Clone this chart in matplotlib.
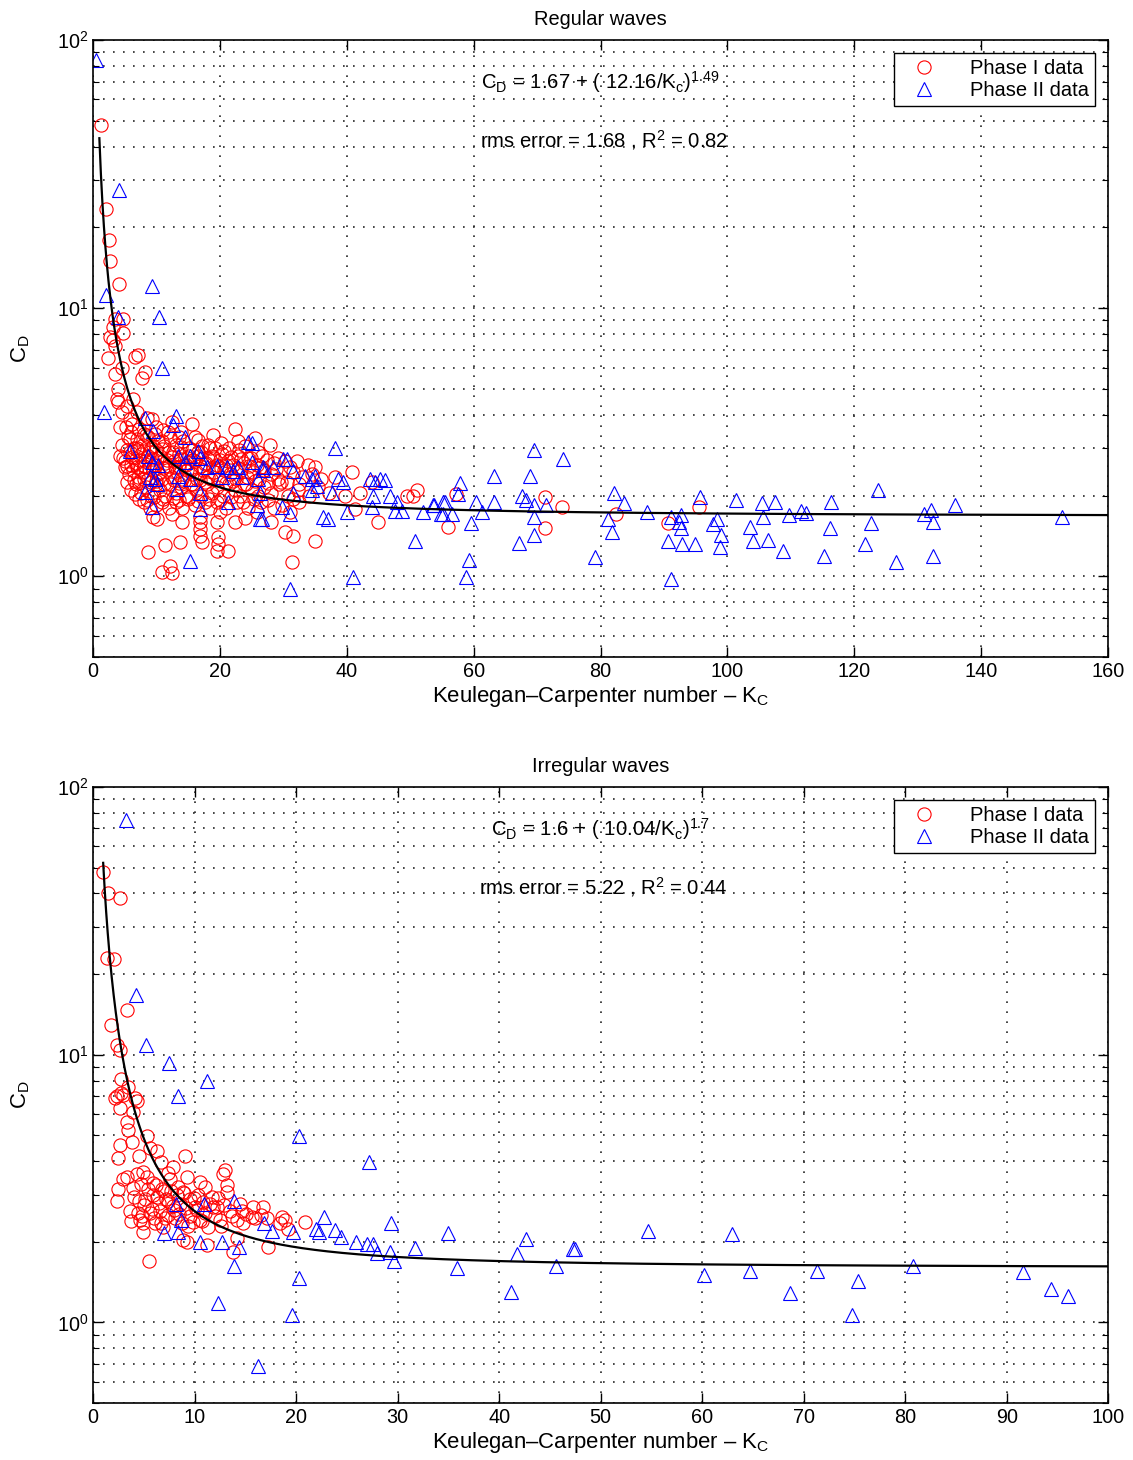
import numpy as np
import matplotlib
matplotlib.use('Agg')
import matplotlib.pyplot as plt
from matplotlib.ticker import LogLocator, FixedLocator

plt.rcParams['font.family'] = ['Liberation Sans', 'DejaVu Sans']
plt.rcParams['mathtext.fontset'] = 'custom'
plt.rcParams['mathtext.rm'] = 'Liberation Sans'
plt.rcParams['mathtext.it'] = 'Liberation Sans:italic'
plt.rcParams['mathtext.default'] = 'rm'

# ---------------- Regular waves ----------------
reg1_kc = [1.3, 2.0, 2.5, 2.7, 4.1, 4.7, 3.5, 3.2, 4.7, 2.7,
           3.2, 3.5, 2.4, 6.6, 7.1, 4.6, 3.5, 7.7, 8.2, 3.9,
           3.8, 6.3, 3.9, 5.4, 4.6, 6.9, 8.5, 9.3, 5.8, 15.6,
           5.2, 6.1, 7.3, 9.9, 11.0, 12.5, 13.8, 22.4, 4.3, 8.0,
           4.6, 5.5, 6.4, 7.0, 7.8, 8.6, 9.2, 10.3, 11.2, 12.1,
           13.0, 14.2, 15.1, 16.0, 17.2, 18.1, 19.3, 20.1, 21.5, 24.0,
           27.9, 6.0, 9.7, 11.8,
           4.3, 5.1, 5.9, 6.7, 7.5, 8.2, 9.0, 9.6, 10.5, 11.3,
           12.0, 12.8, 13.5, 14.4, 15.2, 16.1, 17.0, 17.8, 18.7, 19.5,
           20.4, 21.2, 22.0, 22.9, 23.8, 24.9, 25.8, 26.7, 28.5, 30.2,
           32.1, 33.9, 35.0, 5.4, 7.0, 10.0,
           5.6, 6.3, 7.1, 7.9, 8.7, 9.4, 10.2, 10.9, 11.7, 12.4,
           13.2, 14.0, 14.8, 15.6, 16.4, 17.3, 18.2, 19.0, 19.8, 20.7,
           21.6, 22.5, 23.4, 24.3, 25.2, 26.1, 27.0, 28.0, 29.1, 30.6,
           31.5, 33.0, 34.5, 36.0, 38.1, 40.8, 44.0, 6.9, 12.9, 18.9,
           6.0, 6.8, 7.6, 8.4, 9.1, 9.9, 10.6, 11.4, 12.2, 13.0,
           13.8, 14.6, 15.4, 16.2, 17.0, 17.9, 18.8, 19.6, 20.5, 21.4,
           22.3, 23.2, 24.1, 25.0, 26.0, 27.0, 28.1, 29.3, 30.8, 32.3,
           34.0, 35.5, 37.2, 39.7, 42.1, 6.6, 49.5, 50.4, 51.0, 57.2,
           71.2,
           8.0, 9.0, 10.0, 11.0, 12.0, 13.0, 14.0, 15.0, 16.0, 17.6,
           18.5, 19.5, 21.0, 22.7, 24.5, 26.5, 28.5, 29.8, 32.5, 41.3,
           73.9, 95.5, 20.0, 25.8, 31.0,
           9.5, 10.1, 14.0, 16.9, 16.9, 16.9, 19.5, 22.4, 28.0, 30.3,
           44.9, 56.0, 71.2, 82.4, 90.6, 12.5, 24.0,
           11.3, 13.7, 8.7, 10.9, 12.1, 12.5, 17.2, 16.9, 19.7, 19.7,
           19.5, 21.3, 31.5, 35.0, 31.4,
           # denser core of the cloud
           5.8, 8.3, 10.8, 13.5, 16.6, 18.9, 22.8, 25.5,
           5.3, 6.9, 8.0, 9.5, 10.8, 12.6, 13.9, 15.6, 16.6, 18.5,
           20.6, 23.0, 26.0,
           4.8, 6.2, 7.2, 8.6, 9.3, 10.1, 11.6, 12.4, 13.9, 14.8,
           15.7, 16.5, 18.2, 19.1, 20.0, 21.7, 23.3, 24.4, 27.4, 29.2,
           5.0, 6.0, 7.4, 8.0, 8.9, 9.9, 11.0, 11.9, 13.6, 14.6,
           15.4, 16.8, 17.6, 20.2, 21.0, 22.8, 24.6, 26.4, 28.9, 31.0,
           5.3, 6.5, 7.3, 8.1, 9.2, 10.0, 11.2, 12.7, 13.5, 14.4,
           15.8, 16.8, 17.6, 18.6, 21.0, 22.0, 23.8, 25.6, 27.6, 29.6,
           32.5,
           7.2, 8.5, 9.6, 10.9, 12.6, 13.6, 15.2, 16.6, 18.3, 20.0,
           21.8, 23.6, 25.4, 27.6, 31.5]
reg1_cd = [48, 23.5, 18, 15, 12.3, 9.1, 9.1, 8.5, 8.1, 7.8,
           7.6, 7.2, 6.5, 6.6, 6.7, 6.0, 5.7, 5.5, 5.8, 5.0,
           4.6, 4.6, 4.45, 4.3, 4.1, 4.1, 3.9, 3.85, 3.85, 3.7,
           3.6, 3.7, 3.55, 3.6, 3.5, 3.75, 3.45, 3.55, 3.6, 3.4,
           3.1, 3.3, 3.0, 3.25, 3.1, 3.3, 3.0, 3.2, 3.05, 3.3,
           3.1, 3.2, 3.0, 3.3, 3.05, 3.1, 3.0, 3.15, 3.0, 3.05,
           3.1, 3.45, 3.4, 3.45,
           2.8, 2.7, 2.9, 2.65, 2.85, 2.7, 2.9, 2.6, 2.8, 2.65,
           2.9, 2.7, 2.85, 2.6, 2.8, 2.7, 2.9, 2.65, 2.8, 2.6,
           2.85, 2.7, 2.6, 2.8, 2.65, 2.75, 2.6, 2.8, 2.65, 2.7,
           2.68, 2.6, 2.55, 2.57, 2.95, 2.95,
           2.4, 2.5, 2.35, 2.45, 2.3, 2.5, 2.4, 2.3, 2.5, 2.35,
           2.45, 2.3, 2.5, 2.4, 2.3, 2.5, 2.35, 2.45, 2.3, 2.5,
           2.4, 2.3, 2.5, 2.35, 2.45, 2.3, 2.5, 2.4, 2.3, 2.24,
           2.45, 2.35, 2.4, 2.3, 2.34, 2.44, 2.24, 2.55, 2.55, 2.55,
           2.1, 2.2, 2.05, 2.15, 2.0, 2.2, 2.1, 2.0, 2.2, 2.05,
           2.15, 2.0, 2.2, 2.1, 2.0, 2.2, 2.05, 2.15, 2.0, 2.2,
           2.1, 2.0, 2.2, 2.1, 2.0, 2.15, 2.05, 2.2, 2.0, 2.1,
           2.0, 2.15, 2.05, 1.99, 2.05, 2.02, 2.0, 1.99, 2.1, 2.02,
           1.97,
           1.9, 1.8, 1.85, 1.95, 1.8, 1.9, 1.8, 1.95, 1.85, 1.9,
           1.8, 1.9, 1.8, 1.9, 1.8, 1.9, 1.8, 1.85, 1.9, 1.78,
           1.82, 1.81, 1.73, 1.73, 1.73,
           1.67, 1.63, 1.59, 1.66, 1.59, 1.5, 1.59, 1.59, 1.6, 1.46,
           1.6, 1.53, 1.52, 1.7, 1.58, 1.7, 1.65,
           1.31, 1.34, 1.23, 1.04, 1.09, 1.03, 1.34, 1.41, 1.4, 1.32,
           1.24, 1.24, 1.41, 1.35, 1.13,
           3.25, 3.35, 3.2, 3.3, 3.22, 3.35, 3.2, 3.28,
           2.95, 3.02, 2.92, 3.05, 2.98, 2.9, 3.03, 2.95, 2.9, 3.0,
           2.92, 2.97, 2.9,
           2.75, 2.78, 2.72, 2.8, 2.74, 2.77, 2.72, 2.79, 2.73, 2.76,
           2.71, 2.8, 2.74, 2.77, 2.72, 2.78, 2.73, 2.75, 2.72, 2.76,
           2.55, 2.6, 2.52, 2.58, 2.54, 2.61, 2.53, 2.58, 2.55, 2.6,
           2.52, 2.57, 2.62, 2.54, 2.59, 2.53, 2.58, 2.55, 2.52, 2.56,
           2.25, 2.28, 2.22, 2.3, 2.24, 2.27, 2.21, 2.29, 2.23, 2.26,
           2.2, 2.28, 2.24, 2.3, 2.22, 2.26, 2.2, 2.27, 2.23, 2.25,
           2.21,
           1.95, 1.92, 1.97, 1.9, 1.96, 1.93, 1.98, 1.91, 1.95, 1.92,
           1.97, 1.9, 1.94, 1.92, 1.95]

reg2_kc = [0.5, 4.1, 2.0, 9.3, 10.4, 10.9, 3.9, 1.7,
           8.2, 13.1, 12.6, 9.5, 14.5, 24.4, 5.8, 8.7, 9.3, 10.2,
           9.0, 9.8, 10.1, 8.2, 9.3, 13.2, 13.4, 14.5, 15.3, 16.5,
           16.9, 15.3, 16.9, 16.9, 18.0, 19.5, 20.3, 21.1, 22.1, 22.9,
           23.5, 25.0, 26.0, 26.3, 26.8, 21.3, 15.3, 26.6, 25.8, 13.4,
           38.1, 41.0, 50.7, 38.6, 39.4, 37.7, 36.2, 37.0, 40.0, 43.7,
           44.4, 45.2, 46.0, 44.1, 44.0, 46.8, 47.9, 47.6, 48.7, 52.0,
           53.6, 55.2, 55.2, 30.6, 33.4, 34.5, 35.3, 35.0, 34.5, 31.5,
           31.5, 30.0, 26.3, 31.0, 29.8, 28.4, 26.8, 25.0, 31.0,
           69.5, 74.1, 63.2, 68.9, 57.8, 57.5, 67.6, 68.2, 53.7, 55.5,
           60.3, 63.2, 69.5, 71.4, 54.8, 56.6, 61.3, 69.5, 59.6, 67.1,
           69.5, 59.3, 58.8, 82.1, 83.7, 81.2, 81.8, 79.1, 87.3, 91.1,
           92.7, 92.4, 98.4, 97.7, 92.7, 90.7, 92.8, 94.9, 98.9, 98.8,
           91.1, 95.7, 101.3, 105.4, 107.5, 103.5, 105.6, 104.0, 106.4, 108.7,
           109.7, 111.6, 112.4, 116.3, 116.2, 115.2, 123.7, 122.6, 121.7, 126.6,
           130.9, 132.1, 132.4, 132.4, 135.9, 152.7]
reg2_cd = [84, 27.6, 11.2, 12.1, 9.3, 6.0, 9.3, 4.1,
           3.9, 3.95, 3.68, 3.47, 3.32, 3.18, 2.92, 2.8, 2.66, 2.61,
           2.34, 2.3, 2.2, 2.07, 1.81, 2.11, 2.36, 2.66, 2.8, 2.92,
           2.77, 2.3, 2.05, 1.78, 2.55, 2.57, 2.34, 2.55, 2.46, 2.55,
           2.34, 2.66, 2.3, 2.05, 2.55, 1.89, 1.14, 1.63, 1.85, 2.8,
           3.02, 0.99, 1.35, 2.3, 2.24, 2.05, 1.67, 1.63, 1.73, 2.3,
           2.25, 2.3, 2.28, 1.99, 1.81, 1.99, 1.89, 1.75, 1.75, 1.73,
           1.85, 1.89, 1.7, 2.73, 2.36, 2.3, 2.17, 2.36, 2.1, 2.05,
           2.46, 2.73, 1.63, 1.7, 1.82, 2.55, 2.5, 3.15, 0.895,
           2.95, 2.73, 2.36, 2.36, 2.22, 2.02, 1.99, 1.93, 1.85, 1.9,
           1.89, 1.9, 1.85, 1.85, 1.7, 1.7, 1.73, 1.67, 1.58, 1.33,
           1.42, 1.15, 0.99, 2.04, 1.87, 1.64, 1.46, 1.18, 1.73, 1.66,
           1.69, 1.59, 1.64, 1.56, 1.51, 1.35, 1.32, 1.32, 1.43, 1.29,
           0.98, 1.97, 1.92, 1.88, 1.9, 1.53, 1.67, 1.35, 1.36, 1.24,
           1.69, 1.75, 1.72, 1.9, 1.52, 1.19, 2.09, 1.58, 1.32, 1.13,
           1.7, 1.77, 1.6, 1.19, 1.85, 1.67]

# ---------------- Irregular waves ----------------
irr1_kc = [1.0, 1.5, 2.7, 1.4, 2.1, 3.3, 1.8, 2.4, 2.7, 2.8,
           3.4, 2.2, 3.0, 4.1, 2.4, 2.8, 2.7, 3.9, 4.3, 3.3,
           3.4, 3.8, 2.7, 2.5, 5.3, 5.6, 6.3, 4.5, 6.7, 9.1,
           3.0, 3.3, 4.3, 4.9, 5.3, 3.9, 2.5, 2.4, 3.6, 4.5,
           5.1, 5.9, 6.8, 7.6, 9.3, 7.9, 9.6, 10.5, 11.0, 12.8,
           13.0, 13.2, 12.3, 12.2, 14.5, 14.7, 14.2, 14.8, 15.8, 16.7,
           17.1, 18.6, 18.9, 18.4, 20.9, 19.2, 17.2, 13.8, 14.2, 11.2,
           9.3, 8.9, 5.5, 4.6, 4.9, 4.4, 5.6, 6.6, 7.4, 8.1,
           7.4, 8.3, 8.9, 9.9, 10.2, 11.0, 11.5, 10.5, 11.3, 9.8,
           8.8, 6.9, 4.9, 6.1, 13.2, 13.5, 12.5, 15.7, 16.5, 5.9,
           7.4, 7.9, 6.3, 8.5, 9.6, 10.0, 7.0, 6.0,
           4.0, 5.0, 5.8, 6.5, 7.2, 8.0, 8.6, 9.2, 10.8, 11.8,
           12.0, 12.9, 4.7, 5.4, 6.2, 7.7, 8.4, 9.0, 10.3, 11.7,
           3.7, 4.8, 6.7, 7.1, 9.4, 10.7, 12.6, 13.7, 15.1, 16.0]
irr1_cd = [48, 40, 38.5, 23, 22.8, 14.7, 12.9, 10.9, 10.4, 8.1,
           7.6, 6.9, 7.1, 6.9, 7.0, 7.2, 6.3, 6.1, 6.7, 5.6,
           5.25, 4.7, 4.6, 4.1, 4.95, 4.5, 4.35, 4.2, 3.96, 4.17,
           3.42, 3.5, 3.57, 3.66, 3.48, 3.19, 3.14, 2.85, 2.6, 2.83,
           2.88, 3.0, 3.14, 3.42, 3.48, 2.73, 2.88, 3.36, 3.21, 3.57,
           3.72, 3.27, 2.92, 2.69, 2.76, 2.6, 2.42, 2.36, 2.69, 2.69,
           2.46, 2.48, 2.42, 2.36, 2.38, 2.24, 1.92, 1.84, 2.07, 1.95,
           1.99, 2.04, 1.7, 2.42, 2.36, 2.57, 2.57, 2.6, 2.53, 2.46,
           2.83, 3.0, 3.08, 2.92, 2.64, 2.57, 2.76, 2.42, 2.28, 2.38,
           2.36, 2.28, 2.17, 2.36, 3.06, 2.6, 2.42, 2.48, 2.53, 3.33,
           3.62, 3.82, 2.95, 2.55, 2.5, 2.7, 3.1, 2.45,
           2.95, 2.75, 2.65, 2.8, 2.9, 2.62, 2.78, 2.68, 2.82, 2.7,
           2.5, 2.75, 3.3, 3.15, 3.25, 3.1, 3.2, 3.05, 3.0, 2.95,
           2.4, 2.5, 2.35, 2.45, 2.3, 2.4, 2.3, 2.5, 2.55, 2.45]

irr2_kc = [3.2, 4.2, 5.2, 7.5, 11.2, 8.4, 20.3, 27.2, 8.2, 10.9,
           13.9, 8.7, 7.0, 8.4, 10.5, 12.7, 14.4, 13.9, 12.3, 19.6,
           20.3, 16.3, 16.8, 17.6, 19.7, 22.8, 22.0, 22.3, 23.8, 24.4,
           25.9, 27.0, 27.6, 28.0, 29.4, 29.3, 29.6, 31.7, 35.0, 35.9,
           41.2, 41.8, 42.7, 45.6, 47.3, 47.5, 54.7, 60.2, 62.9, 64.7,
           68.7, 71.3, 74.8, 75.4, 80.8, 91.6, 94.4, 96.0]
irr2_cd = [75, 16.7, 10.9, 9.3, 8.0, 7.0, 4.98, 3.98, 2.78, 2.78,
           2.85, 2.42, 2.15, 2.17, 1.99, 2.0, 1.92, 1.62, 1.18, 1.07,
           1.47, 0.69, 2.36, 2.2, 2.17, 2.48, 2.24, 2.17, 2.22, 2.09,
           2.0, 1.97, 1.97, 1.81, 2.36, 1.84, 1.7, 1.9, 2.15, 1.6,
           1.3, 1.8, 2.05, 1.63, 1.88, 1.88, 2.2, 1.5, 2.14, 1.56,
           1.29, 1.56, 1.07, 1.43, 1.63, 1.54, 1.33, 1.26]

# fitted curves: CD = a + (b/Kc)^n
reg_fit = (1.67, 12.16, 1.49)
irr_fit = (1.6, 10.04, 1.7)

DOTS = (0, (1, 5))


def draw_panel(ax, kc1, cd1, kc2, cd2, fit, xmax, xstep, title, eq, err):
    ax.plot(kc1, cd1, 'o', mfc='none', mec='r', ms=9.5, mew=0.8, label='Phase I data')
    ax.plot(kc2, cd2, '^', mfc='none', mec='b', ms=10.5, mew=0.8, label='Phase II data')
    a, b, n = fit
    kk = np.linspace(1.0, xmax, 2000)
    ax.plot(kk, a + (b / kk) ** n, 'k-', lw=1.6)

    ax.set_yscale('log')
    ax.set_xlim(0, xmax)
    ax.set_ylim(0.5, 100)
    ax.xaxis.set_major_locator(FixedLocator(np.arange(0, xmax + 1, xstep)))
    ax.yaxis.set_major_locator(LogLocator(base=10))
    ax.yaxis.set_minor_locator(LogLocator(base=10, subs=np.arange(2, 10)))
    ax.yaxis.set_minor_formatter(plt.NullFormatter())
    ax.tick_params(which='both', direction='in', top=True, right=True, labelsize=14.3)
    ax.tick_params(which='major', length=7, width=1)
    ax.tick_params(which='minor', length=4, width=0.8)
    ax.grid(True, which='major', axis='x', ls=DOTS, color='0.15', lw=1.2)
    ax.grid(True, which='both', axis='y', ls=DOTS, color='0.15', lw=1.2)
    for s in ax.spines.values():
        s.set_linewidth(1.2)

    ax.set_title(title, fontsize=14.4, pad=11)
    ax.set_xlabel('Keulegan\u2013Carpenter number \u2013 K$_C$', fontsize=15.9, labelpad=2)
    ax.set_ylabel('C$_D$', fontsize=15.9, labelpad=18)
    ax.text(0.5, 0.932, eq, transform=ax.transAxes, ha='center', va='center', fontsize=14.7)
    ax.text(0.503, 0.838, err, transform=ax.transAxes, ha='center', va='center', fontsize=14.6)
    leg = ax.legend(loc='upper right', fontsize=14.5, frameon=True, fancybox=False,
                    edgecolor='k', borderaxespad=0.65, handlelength=2.4, handletextpad=1.1,
                    labelspacing=0.15, borderpad=0.3, framealpha=1)
    leg.get_frame().set_linewidth(1.0)


fig = plt.figure(figsize=(11.33, 14.6), dpi=100)
ax1 = fig.add_axes([0.0821, 0.55, 0.896, 0.4226])
ax2 = fig.add_axes([0.0821, 0.039, 0.896, 0.422])

draw_panel(ax1, reg1_kc, reg1_cd, reg2_kc, reg2_cd, reg_fit, 160, 20, 'Regular waves',
           r'C$_D$ = 1.67 + ( 12.16/K$_c$)$^{1.49}$', r'rms error = 1.68 , R$^2$ = 0.82')
draw_panel(ax2, irr1_kc, irr1_cd, irr2_kc, irr2_cd, irr_fit, 100, 10, 'Irregular waves',
           r'C$_D$ = 1.6 + ( 10.04/K$_c$)$^{1.7}$', r'rms error = 5.22 , R$^2$ = 0.44')

fig.savefig('out.png', dpi=100)
